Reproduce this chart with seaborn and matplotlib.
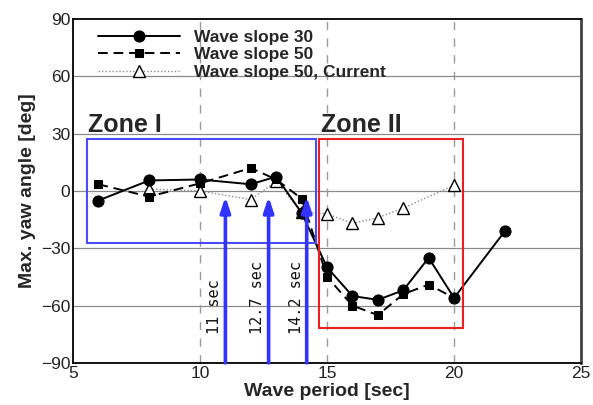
import matplotlib
matplotlib.use("Agg")
import pandas as pd
import matplotlib.pyplot as plt
import seaborn as sns
from matplotlib.patches import Rectangle

# data
period_30 = [6, 8, 10, 12, 13, 14, 15, 16, 17, 18, 19, 20, 22]
yaw_30 = [-5, 5.5, 6, 3.5, 7.5, -11.5, -40, -55, -57, -52, -35, -56, -21]

period_50 = [6, 8, 10, 12, 13, 14, 15, 16, 17, 18, 19, 20]
yaw_50 = [3.5, -3, 4, 12, 6, -4, -45, -60, -65, -54, -49, -56]

period_cur = [8, 10, 12, 13, 14, 15, 16, 17, 18, 20]
yaw_cur = [1, 0, -4.5, 5, -11, -12, -17, -14, -9, 3]

arrow_periods = [11, 12.7, 14.2]
arrow_labels = ["11 sec", "12.7 sec", "14.2 sec"]

zone_names = ["Zone I", "Zone II"]

sns.set_style("white")
plt.rcParams["font.family"] = ["Liberation Sans", "DejaVu Sans"]

fig = plt.figure(figsize=(5.93, 4.05), dpi=100)
ax = fig.add_axes([0.123, 0.104, 0.857, 0.849])

# grid
for yv in [-60, -30, 0, 30, 60]:
    ax.axhline(yv, color="#8a8a8a", lw=0.9, zorder=1)
for xv in [10, 15, 20]:
    ax.axvline(xv, color="#9a9a9a", lw=1.0, ls=(0, (6, 6)), zorder=1)

# series
df_cur = pd.DataFrame({"period": period_cur, "yaw": yaw_cur})
df_50 = pd.DataFrame({"period": period_50, "yaw": yaw_50})
df_30 = pd.DataFrame({"period": period_30, "yaw": yaw_30})

sns.lineplot(data=df_cur, x="period", y="yaw", ax=ax, sort=False,
             color="#8c8c8c", lw=1.0, ls=(0, (1, 1.5)),
             marker="^", markersize=8, markerfacecolor="white",
             markeredgecolor="black", markeredgewidth=1.0,
             label="Wave slope 50, Current", zorder=3)
sns.lineplot(data=df_50, x="period", y="yaw", ax=ax, sort=False,
             color="black", lw=1.4, ls=(0, (5, 3)),
             marker="s", markersize=6, markeredgecolor="black",
             label="Wave slope 50", zorder=4)
sns.lineplot(data=df_30, x="period", y="yaw", ax=ax, sort=False,
             color="black", lw=1.4, marker="o", markersize=8,
             markeredgecolor="black", label="Wave slope 30", zorder=5)

# zones
ax.add_patch(Rectangle((5.55, -27.5), 9.0, 54.5, fill=False,
                       edgecolor="#4a4aff", lw=1.5, zorder=6))
ax.add_patch(Rectangle((14.7, -72), 5.67, 99, fill=False,
                       edgecolor="#e82020", lw=1.5, zorder=6))
ax.text(5.6, 31, zone_names[0], fontsize=18, fontweight="bold", va="baseline")
ax.text(14.75, 31, zone_names[1], fontsize=18, fontweight="bold", va="baseline")

# arrows with period labels
for xp, lab in zip(arrow_periods, arrow_labels):
    ax.annotate("", xy=(xp, -3), xytext=(xp, -90),
                arrowprops=dict(arrowstyle="-|>,head_length=0.9,head_width=0.3",
                                color="#3333ff", lw=2.6, shrinkA=0, shrinkB=0),
                zorder=7)
    ax.text(xp - 0.42, -75, lab, rotation=90, ha="center", va="bottom",
            fontsize=11, family="DejaVu Sans Mono", color="#111111")

ax.set_xlim(5, 25)
ax.set_ylim(-90, 90)
ax.set_xticks(range(5, 26, 5))
ax.set_xticks(range(5, 26), minor=True)
ax.set_yticks(range(-90, 91, 30))
ax.set_yticks(range(-90, 91, 10), minor=True)
ax.tick_params(which="both", direction="in", top=False, right=False,
               labelsize=12.5, labelcolor="#222222", pad=2)
ax.tick_params(which="major", length=6, width=1)
ax.tick_params(which="minor", length=3, width=0.8)
for s in ax.spines.values():
    s.set_color("black")
    s.set_linewidth(1.3)
ax.spines["right"].set_color("#444444")
ax.spines["right"].set_linewidth(2)

ax.set_xlabel("Wave period [sec]", fontsize=14, fontweight="bold", labelpad=2)
ax.set_ylabel("Max. yaw angle [deg]", fontsize=14, fontweight="bold", labelpad=3)

handles, labels = ax.get_legend_handles_labels()
order = [2, 1, 0]
ax.legend([handles[i] for i in order], [labels[i] for i in order],
          loc="upper left", bbox_to_anchor=(0.05, 0.968), frameon=False,
          prop={"weight": "bold", "size": 12.5},
          handlelength=4.7, handletextpad=0.8, labelspacing=0.12,
          borderaxespad=0, borderpad=0)

fig.savefig("out.png", dpi=100)
